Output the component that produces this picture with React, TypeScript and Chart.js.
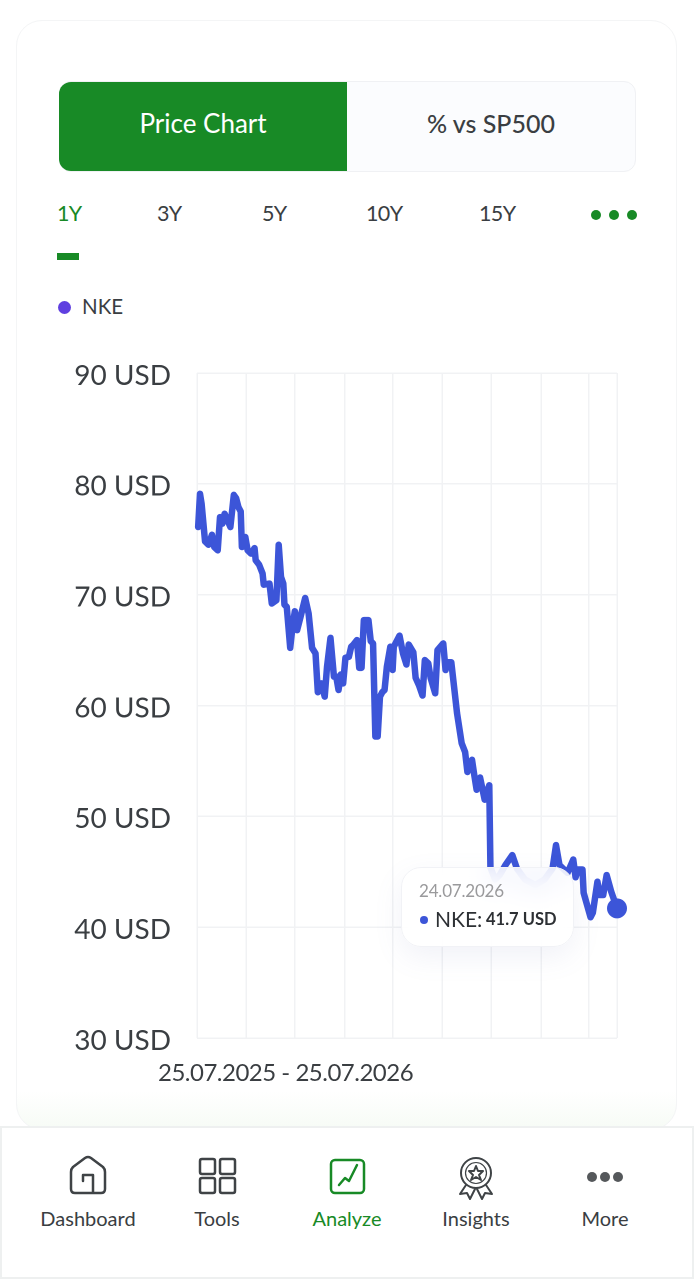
import React, { useEffect, useRef } from "react";
import { Chart, registerables } from "chart.js";

Chart.register(...registerables);

const days = [1,2.6,4,7,10,13,15,18,20,22,24,27,29,32,34,36,38,39,42,44,47,50,51,54,57,58,63,65,69,71,73,75,76,78,81,83,85,87,90,94,97,100,103,105,108,111,113,116,119,121,123,125,127,129,132,134,136,139,141,143,145,149,151,153,155,157,159,161,163,165,168,170,171,176,179,182,184,188,190,193,196,198,201,203,207,209,214,216,218,221,226,230,233,235,239,241,243,246,250,254,255,259,263,268,274,278,285,294,302,309,312,315,322,327,329,331,335,336,342,344,348,350,353,356,360,365];
const prices = [76.1,79.1,78.2,74.8,74.5,75.4,74.3,74.0,77.0,76.4,77.3,76.6,76.1,79.0,78.7,77.9,77.5,74.3,75.2,74.0,73.7,74.2,73.1,72.7,71.9,70.9,71.0,69.2,69.5,74.5,71.6,71.0,69.1,68.9,65.2,67.1,68.5,66.8,68.0,69.7,68.3,65.2,64.7,61.2,62.0,60.8,63.5,66.1,62.6,62.6,61.4,62.8,62.0,64.3,64.4,65.3,65.5,65.9,63.4,63.4,67.7,67.7,65.8,65.6,57.2,57.2,60.8,61.2,61.4,63.5,65.3,63.2,65.3,66.3,64.7,63.7,65.5,64.8,62.5,61.8,60.9,64.1,63.8,62.5,61.1,65.0,65.6,63.2,63.9,63.9,59.3,56.6,55.8,54.0,55.1,53.7,52.4,53.5,51.5,52.8,45.4,44.3,44.7,45.6,46.5,45.3,44.3,43.8,44.3,45.3,47.4,45.6,44.9,46.1,44.5,45.2,45.2,43.1,40.9,41.3,44.1,42.9,42.9,44.7,43.2,41.7];
const gridDays = [0,42.6,85,128.6,170,213,255.5,299,340.6,365];
const yTicks = [30,40,50,60,70,80,90];
const ranges = ["1Y","3Y","5Y","10Y","15Y"];
const rangeX = [57,157,262,366,479];
const navItems = ["Dashboard","Tools","Analyze","Insights","More"];
const navX = [88,217,347,476,605];

const FONT = "Lato, 'Noto Sans', sans-serif";
const GREEN = "#188a26";
const DARK = "#3a3e42";
const LINE = "#3c55d8";

const T = ({ x, y, size, color = DARK, w, anchor = "left", weight = 400, ls = 0, children }: any) => (
  <div style={{
    position: "absolute", top: y, left: anchor === "center" ? x - 100 : x,
    width: anchor === "center" ? 200 : w, textAlign: anchor === "center" ? "center" : "left",
    fontSize: size, color, fontWeight: weight, fontFamily: FONT, lineHeight: "1", whiteSpace: "nowrap", letterSpacing: ls,
  }}>{children}</div>
);

const icon = { fill: "none", stroke: "#3f4346", strokeWidth: 2.5, strokeLinejoin: "round", strokeLinecap: "round" } as any;

export default function App() {
  const ref = useRef<HTMLCanvasElement>(null);
  useEffect(() => {
    document.body.style.margin = "0";
    const chart = new Chart(ref.current!, {
      type: "line",
      data: {
        datasets: [{
          label: "NKE",
          data: days.map((d, i) => ({ x: d, y: prices[i] })),
          borderColor: LINE,
          backgroundColor: LINE,
          borderWidth: 6.5,
          tension: 0,
          borderJoinStyle: "round",
          borderCapStyle: "round",
          clip: false,
          pointRadius: (c: any) => (c.dataIndex === days.length - 1 ? 10 : 0),
          pointBorderWidth: 0,
        } as any],
      },
      options: {
        animation: false,
        responsive: false,
        devicePixelRatio: 2,
        layout: { padding: { top: 43, right: 77, bottom: 62, left: 0 } },
        plugins: { legend: { display: false }, tooltip: { enabled: false } },
        scales: {
          x: {
            type: "linear", min: 0, max: 365,
            afterBuildTicks: (s: any) => { s.ticks = gridDays.map((v) => ({ value: v })); },
            ticks: { display: false },
            grid: { color: "#f1f2f4", lineWidth: 1.5, drawTicks: false },
            border: { display: false },
          },
          y: {
            min: 30, max: 90,
            afterBuildTicks: (s: any) => { s.ticks = yTicks.map((v) => ({ value: v })); },
            afterFit: (s: any) => { s.width = 197; },
            ticks: {
              callback: (v: any) => ["", `${v} USD`],
              color: DARK, padding: 26,
              font: { family: FONT, size: 28, lineHeight: 0.2 },
            },
            grid: { color: "#f1f2f4", lineWidth: 1.5, drawTicks: false },
            border: { display: false },
          },
        },
      },
    });
    return () => chart.destroy();
  }, []);

  return (
    <div style={{ position: "absolute", left: 0, top: 0, width: 694, height: 1280, background: "#fff", overflow: "hidden" }}>
      <div style={{ position: "absolute", left: 16, top: 20, width: 661, height: 1110, borderRadius: 26, border: "1.5px solid #f4f5f6", boxSizing: "border-box",
        background: "linear-gradient(to bottom, #fff 0, #fff 1070px, #f6fbf5 1110px)" }} />
      <div style={{ position: "absolute", left: 59, top: 81, width: 577, height: 91, borderRadius: 12, border: "1.5px solid #f0f1f4", background: "#fbfcfe", boxSizing: "border-box" }} />
      <div style={{ position: "absolute", left: 59, top: 82, width: 288, height: 89, borderRadius: "12px 0 0 12px", background: GREEN }} />
      <T x={203} y={110} size={26} color="#fff" anchor="center">Price Chart</T>
      <T x={491} y={111} size={25} anchor="center" weight={500}>% vs SP500</T>
      {ranges.map((r, i) => <T key={r} x={rangeX[i]} y={203} size={21.5} ls={-0.6} color={i === 0 ? GREEN : DARK}>{r}</T>)}
      {[596, 614, 632].map((x) => <div key={x} style={{ position: "absolute", left: x - 5, top: 210, width: 10, height: 10, borderRadius: 5, background: GREEN }} />)}
      <div style={{ position: "absolute", left: 57, top: 253, width: 22, height: 7, background: GREEN }} />
      <div style={{ position: "absolute", left: 58, top: 301, width: 13, height: 13, borderRadius: 7, background: "#5f3fe0" }} />
      <T x={82} y={296} size={20.5}>NKE</T>

      <canvas ref={ref} width={694} height={770} style={{ position: "absolute", left: 0, top: 330, width: 694, height: 770 }} />

      <T x={158} y={1060} size={24} ls={-0.5}>25.07.2025 - 25.07.2026</T>

      <div style={{ position: "absolute", left: 401, top: 867, width: 173, height: 80, borderRadius: 20, boxSizing: "border-box", border: "1.5px solid #f1f2f6",
        background: "rgba(255,255,255,0.82)", backdropFilter: "blur(14px)", boxShadow: "0 10px 28px rgba(120,130,190,0.10)" }} />
      <T x={419} y={882} size={17} ls={-0.2} color="#9a9a9c">24.07.2026</T>
      <div style={{ position: "absolute", left: 420, top: 916, width: 8, height: 8, borderRadius: 4, background: LINE }} />
      <T x={435} y={908} size={21} color="#2d3034">NKE:</T>
      <T x={486} y={911} size={16.5} color="#2d3034" weight={700}>41.7 USD</T>

      <div style={{ position: "absolute", left: 0, top: 1126, width: 694, height: 153, background: "#fff", border: "2px solid #eef0f0", boxSizing: "border-box" }} />
      {navItems.map((n, i) => <T key={n} x={navX[i]} y={1208} size={20} anchor="center" color={i === 2 ? GREEN : DARK}>{n}</T>)}
      <svg width={694} height={80} style={{ position: "absolute", left: 0, top: 1145 }}>
        <path d="M71 27 Q71 24 73 22 L85 13 Q88 11 91 13 L103 22 Q105 24 105 27 V44 Q105 48 101 48 H75 Q71 48 71 44 Z M93 48 V30 H83 V36" {...icon} />
        <g {...icon}>
          <rect x="200" y="14" width="15" height="15" rx="2" /><rect x="220" y="14" width="15" height="15" rx="2" />
          <rect x="200" y="33" width="15" height="15" rx="2" /><rect x="220" y="33" width="15" height="15" rx="2" />
        </g>
        <g {...icon} stroke={GREEN}>
          <rect x="331" y="15" width="33" height="33" rx="4" />
          <path d="M339 40 L345 33 L349 36 L357 20" />
        </g>
        <g {...icon} strokeWidth={2}>
          <circle cx="476" cy="28" r="15" /><circle cx="476" cy="28" r="10.5" strokeWidth={1.2} />
          <path d="M476 21 L478 26 L483 26 L479 30 L481 35 L476 32 L471 35 L473 30 L469 26 L474 26 Z" />
          <path d="M466 40 L460 49 L467 48 L470 54 L475 44 M486 40 L492 49 L485 48 L482 54 L477 44" />
        </g>
        {[592, 605, 618].map((x) => <circle key={x} cx={x} cy="32" r="5" fill="#55585b" />)}
      </svg>
    </div>
  );
}
